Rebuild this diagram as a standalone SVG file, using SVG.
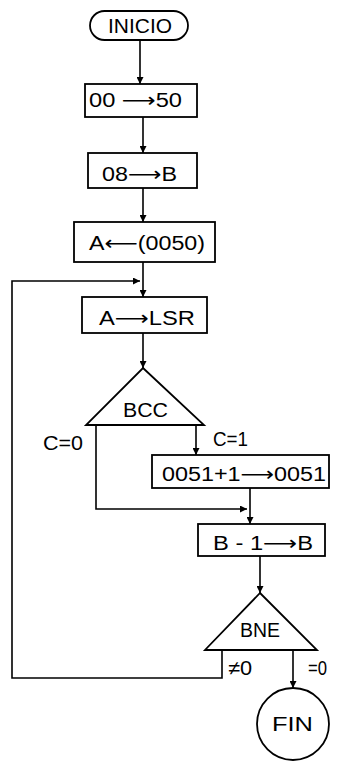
<svg xmlns="http://www.w3.org/2000/svg" width="337" height="764" viewBox="0 0 337 764">
<defs>
<marker id="ah" viewBox="0 0 10 10" refX="10" refY="5" markerWidth="7" markerHeight="7" markerUnits="userSpaceOnUse" orient="auto">
<path d="M0,0 L10,5 L0,10 z" fill="#000"/>
</marker>
</defs>
<style>
.s{fill:#fff;stroke:#000;stroke-width:1.8}
.c{fill:none;stroke:#000;stroke-width:1.6}
text{font-family:"Liberation Sans","DejaVu Sans",sans-serif;font-size:20px;fill:#000}
.a{font-family:"DejaVu Sans",sans-serif}
</style>
<rect width="337" height="764" fill="#fff"/>
<g id="connectors">
<path class="c" d="M140,40 V84" marker-end="url(#ah)"/>
<path class="c" d="M143,117 V153" marker-end="url(#ah)"/>
<path class="c" d="M143,188 V222" marker-end="url(#ah)"/>
<path class="c" d="M143,262 V297" marker-end="url(#ah)"/>
<path class="c" d="M143,333 V368" marker-end="url(#ah)"/>
<path class="c" d="M196,425 V455" marker-end="url(#ah)"/>
<path class="c" d="M96,425 V509 H247" marker-end="url(#ah)"/>
<path class="c" d="M250,488 V524" marker-end="url(#ah)"/>
<path class="c" d="M260,556 V593" marker-end="url(#ah)"/>
<path class="c" d="M222,650 V678 H12 V281 H140" marker-end="url(#ah)"/>
<path class="c" d="M293,650 V688" marker-end="url(#ah)"/>
</g>
<g id="inicio">
<rect class="s" x="90" y="11" width="98" height="29" rx="14.5"/>
<text x="108" y="33" font-size="21" textLength="64" lengthAdjust="spacingAndGlyphs">INICIO</text>
</g>
<g id="n1">
<rect class="s" x="85" y="84" width="112" height="33"/>
<text x="89" y="107" font-size="18" textLength="93" lengthAdjust="spacingAndGlyphs">00 <tspan class="a">⟶</tspan>50</text>
</g>
<g id="n2">
<rect class="s" x="88" y="153" width="109" height="35"/>
<text x="102" y="181" font-size="18" textLength="75" lengthAdjust="spacingAndGlyphs">08<tspan class="a">⟶</tspan>B</text>
</g>
<g id="n3">
<rect class="s" x="74" y="222" width="141" height="40"/>
<text x="89" y="250" font-size="20" textLength="116" lengthAdjust="spacingAndGlyphs">A<tspan class="a">⟵</tspan>(0050)</text>
</g>
<g id="n4">
<rect class="s" x="82" y="297" width="125" height="36"/>
<text x="99" y="325" font-size="22" textLength="96" lengthAdjust="spacingAndGlyphs">A<tspan class="a">⟶</tspan>LSR</text>
</g>
<g id="bcc">
<path class="s" d="M143,368 L204,425 H86 Z"/>
<text x="123" y="417" font-size="22" textLength="45" lengthAdjust="spacingAndGlyphs">BCC</text>
</g>
<text x="213" y="446" font-size="22" textLength="35" lengthAdjust="spacingAndGlyphs">C=1</text>
<text x="43" y="450" font-size="22" textLength="40" lengthAdjust="spacingAndGlyphs">C=0</text>
<g id="n5">
<rect class="s" x="152" y="455" width="177" height="33"/>
<text x="162" y="481" font-size="22" textLength="164" lengthAdjust="spacingAndGlyphs">0051+1<tspan class="a">⟶</tspan>0051</text>
</g>
<g id="n6">
<rect class="s" x="198" y="524" width="127" height="32"/>
<text x="213" y="550" font-size="21" textLength="100" lengthAdjust="spacingAndGlyphs">B - 1<tspan class="a">⟶</tspan>B</text>
</g>
<g id="bne">
<path class="s" d="M260,593 L317,650 H205 Z"/>
<text x="240" y="637" font-size="18" textLength="40" lengthAdjust="spacingAndGlyphs">BNE</text>
</g>
<text x="228" y="675" font-size="18" textLength="24" lengthAdjust="spacingAndGlyphs">≠0</text>
<text x="308" y="675" font-size="18" textLength="19" lengthAdjust="spacingAndGlyphs">=0</text>
<g id="fin">
<circle class="s" cx="293" cy="724" r="36"/>
<text x="272" y="731" font-size="19" textLength="41" lengthAdjust="spacingAndGlyphs">FIN</text>
</g>
</svg>
